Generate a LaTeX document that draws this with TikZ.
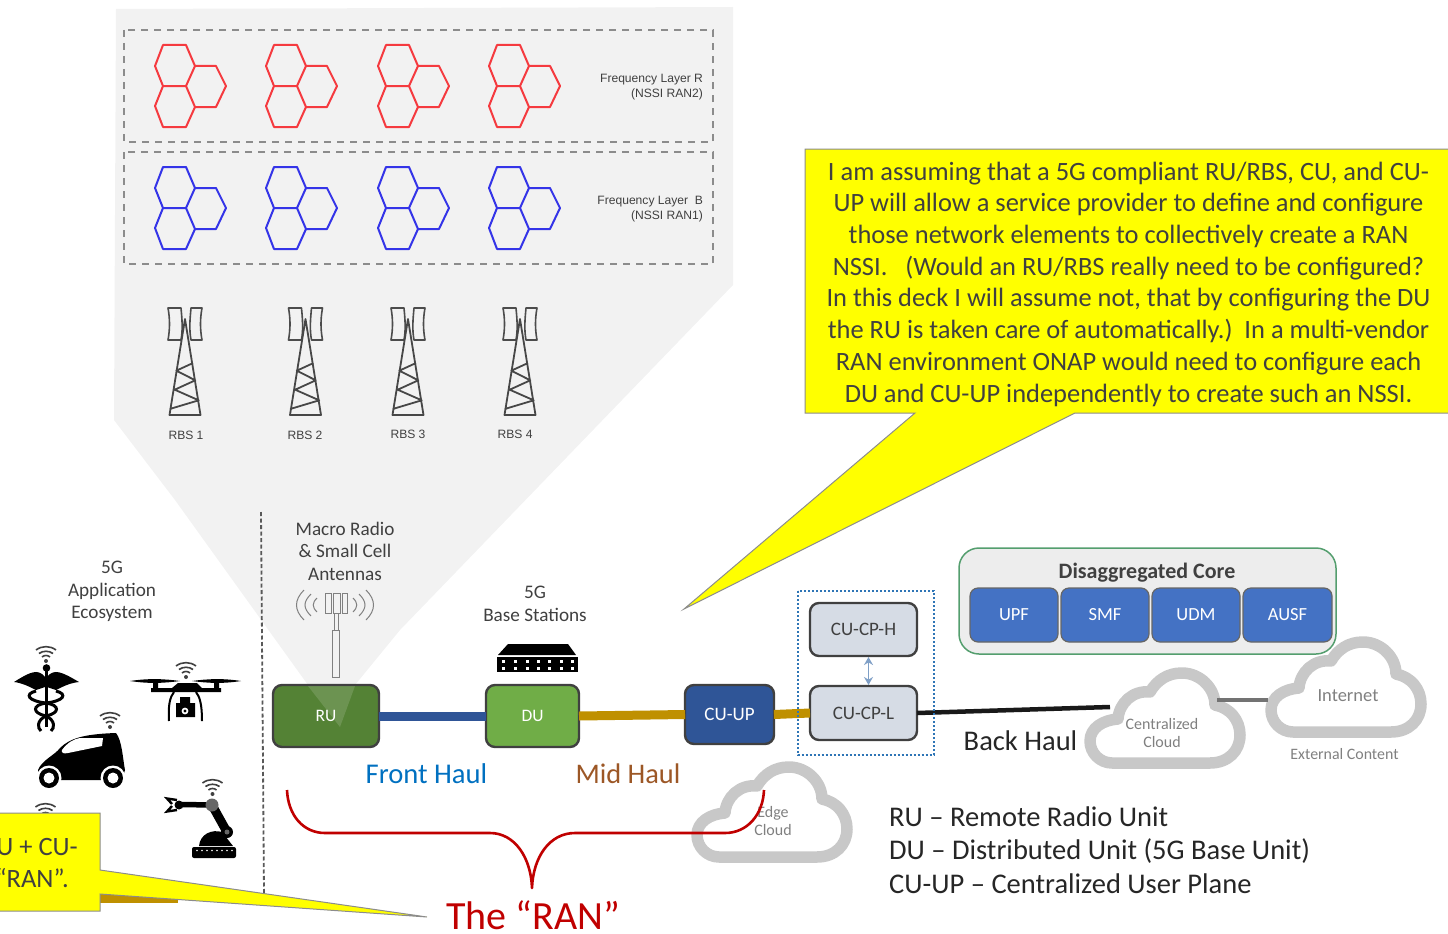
\documentclass[tikz,border=0pt]{standalone}
\usepackage{fontspec}
\setmainfont{Carlito}
\newfontfamily\smallfont{Liberation Sans}
\usetikzlibrary{arrows.meta}
\definecolor{txtgray}{HTML}{404040}
\definecolor{panelgray}{HTML}{F2F2F2}
\definecolor{cloudgray}{HTML}{C8C8C8}
\definecolor{lightgraytxt}{HTML}{808080}
\definecolor{coreblue}{HTML}{4472C4}
\definecolor{callyellow}{HTML}{FFFF00}
\definecolor{linkgold}{HTML}{BF9000}
\definecolor{linkblue}{HTML}{2F5597}
\definecolor{hexred}{HTML}{F53A3F}
\definecolor{hexblue}{HTML}{3434E8}
\definecolor{ranred}{HTML}{C00000}
\definecolor{cpfill}{HTML}{D6DCE5}
\definecolor{arrowblue}{HTML}{7F9FC6}
\definecolor{rugreen}{HTML}{548235}
\definecolor{dugreen}{HTML}{70AD47}
\definecolor{dotblue}{HTML}{2E75B6}
\definecolor{coregreen}{HTML}{549E6E}
\definecolor{coregray}{HTML}{EDEDED}
\definecolor{frontblue}{HTML}{0070C0}
\definecolor{midbrown}{HTML}{9C5726}
\newcommand{\fs}[2]{\fontsize{#1}{#2}\selectfont}
\tikzset{
  x=1pt,y=-1pt,
  txt/.style={inner sep=0pt,outer sep=0pt,align=center,text=txtgray},
  unit/.style={draw=txtgray,line width=2.4pt,rounded corners=9pt,inner sep=0pt,outer sep=0pt,text=white,font=\fs{17.5}{20}},
  cpunit/.style={unit,fill=cpfill,text=txtgray,font=\fs{19}{22}},
  coreunit/.style={draw=black!60,line width=1.2pt,rounded corners=8pt,inner sep=0pt,outer sep=0pt,fill=coreblue,text=white,font=\fs{18.5}{22},minimum width=88pt,minimum height=54pt},
  link/.style={line width=9pt},
  dashbox/.style={draw=black!45,line width=1.3pt,dash pattern=on 7pt off 6pt},
  smalllabel/.style={inner sep=0pt,outer sep=0pt,text=txtgray,font=\smallfont\fs{12.1}{14}},
  cloudtxt/.style={inner sep=0pt,outer sep=0pt,align=center,text=lightgraytxt},
  hexcluster/.pic={
    \draw[pic actions,line width=2pt,line join=round]
      (8,0)--(31,0)--(40,21)--(31,41)--(8,41)--(0,21)--cycle
      (8,41)--(0,61)--(8,82)--(31,82)--(40,62)--(31,41)
      (40,21)--(61,21)--(71,41)--(61,62)--(40,62);
  },
  towericon/.pic={
    \draw[line width=1.6pt,draw=black!70,line join=round]
      (-17,-11) -- (-4,-11) .. controls (-3,0) and (-2,10) .. (-4,21) -- (-17,21) .. controls (-15,10) and (-15,0) .. cycle
      (17,-11) -- (6,-11) .. controls (5,0) and (4,10) .. (6,21) -- (17,21) .. controls (15,10) and (15,0) .. cycle;
    \draw[line width=1.8pt,draw=black!72,line join=round]
      (-15.5,96) -- (0,0) -- (15.5,96) -- cycle
      (-15.3,90) -- (13.7,81.3) -- (-10.3,70.7) -- (10.3,61.3) -- (-8.7,51.7) -- (8,44);
  },
  wifi/.pic={
    \fill[black!75] (0,0) circle[radius=2];
    \draw[black!75,line width=1.6pt] (-4,-4) .. controls (-2,-6) and (2,-6) .. (4,-4);
    \draw[black!75,line width=1.6pt] (-7,-7.5) .. controls (-3,-10.5) and (3,-10.5) .. (7,-7.5);
    \draw[black!75,line width=1.6pt] (-10,-11) .. controls (-4,-15.5) and (4,-15.5) .. (10,-11);
  },
  cloudshape/.pic={
    \draw[cloudgray,line width=11.5pt,line join=round]
      (27,95) .. controls (15,95) and (5,85) .. (5,73)
      .. controls (5,60) and (18,52) .. (33,51)
      .. controls (34,35) and (48,22) .. (65,24)
      .. controls (72,12) and (83,5) .. (97,5)
      .. controls (115,5) and (130,20) .. (130,37)
      .. controls (145,40) and (155,52) .. (155,67)
      .. controls (155,83) and (143,95) .. (125,95) -- cycle;
  },
}
\begin{document}
\begin{tikzpicture}
\useasboundingbox (0,0) rectangle (1448,934);
% panel
\fill[panelgray] (116,9) -- (733,7) -- (733,285) -- (400,630) -- (355,685) -- (308,685) -- (175,500) -- (114,420) -- cycle;
\draw[dashbox] (124,30) rectangle (713,142);
\draw[dashbox] (124,152) rectangle (713,264);
\foreach \hx in {155,266,378,489} {
  \pic[draw=hexred] at (\hx,45) {hexcluster};
  \pic[draw=hexblue] at (\hx,167) {hexcluster};
}
\node[smalllabel,anchor=east] (fr1) at (703,80) {Frequency Layer R};
\node[smalllabel,anchor=east] (fr2) at (703,94) {(NSSI RAN2)};
\node[smalllabel,anchor=east] (fb1) at (703,202) {Frequency Layer\ \ B};
\node[smalllabel,anchor=east] (fb2) at (703,216) {(NSSI RAN1)};
\foreach \tx in {185,305.5,408,520} { \pic at (\tx,319) {towericon}; }
\node[smalllabel] (rbs1) at (186,435.5) {RBS 1};
\node[smalllabel] (rbs2) at (305,435.5) {RBS 2};
\node[smalllabel] (rbs3) at (408,434) {RBS 3};
\node[smalllabel] (rbs4) at (515,434) {RBS 4};
% divider
\draw[black!65,line width=1.8pt,dash pattern=on 4pt off 2.5pt] (261,512) -- (264,893);
% labels
\node[txt,font=\fs{19.2}{22.6}] (eco) at (112,591.5) {5G\\Application\\Ecosystem};
\node[txt,font=\fs{19.2}{22.6}] (macro) at (345,551) {Macro Radio\\\&\ Small Cell\\Antennas};
\node[txt,font=\fs{19.2}{23}] (bs) at (535,604) {5G\\Base Stations};
% macro antenna
\begin{scope}[black!50,line width=1pt]
  \draw (325,593) rectangle (331,613) (333,593) rectangle (340,613) (342,593) rectangle (347,613);
  \draw (334,613) rectangle (338,630) (332.5,630) rectangle (339.5,677);
  \draw (304,590) .. controls (294,600) and (294,610) .. (304,620);
  \draw (311,594) .. controls (303,602) and (303,608) .. (311,616);
  \draw (317,598) .. controls (312,603) and (312,607) .. (317,612);
  \draw (366,590) .. controls (376,600) and (376,610) .. (366,620);
  \draw (359,594) .. controls (367,602) and (367,608) .. (359,616);
  \draw (353,598) .. controls (358,603) and (358,607) .. (353,612);
\end{scope}
% base station icon
\fill[black] (508,644) -- (568,644) -- (576,655) -- (498,655) -- cycle;
\fill[black] (497,657) rectangle (577.5,672);
\foreach \dx in {503,515,527,538,549,561,572} {
  \fill[white] (\dx-1.5,659.5) rectangle (\dx+1.5,662.5);
  \fill[white] (\dx-1.5,666.5) rectangle (\dx+1.5,669.5);
}
% wifi
\pic at (46,661) {wifi};
\pic at (186,677) {wifi};
\pic at (110,727) {wifi};
\pic at (212.5,794) {wifi};
\pic at (45.5,818) {wifi};
% caduceus
\fill[black] (45,677) .. controls (38,668) and (30,672) .. (14,682) .. controls (22,683) and (28,686) .. (36,690) -- (45,687) -- cycle;
\fill[black] (47,677) .. controls (54,668) and (62,672) .. (79,682) .. controls (70,683) and (64,686) .. (56,690) -- (47,687) -- cycle;
\fill[black] (46.5,668) circle[radius=3.8];
\draw[black,line width=3pt] (46,670) -- (46,727);
\draw[black,line width=3pt] (36,691) .. controls (24,694) and (28,701) .. (46,703) .. controls (60,705) and (60,713) .. (46,716) .. controls (37,720) and (37,728) .. (41,731);
\draw[black,line width=3pt] (56,691) .. controls (68,694) and (64,701) .. (46,703) .. controls (32,705) and (32,713) .. (46,716) .. controls (55,720) and (55,728) .. (51,731);
% drone
\fill[black] (130,681) .. controls (150,678) and (165,679) .. (180,681) .. controls (165,683) and (150,684) .. (130,681) -- cycle;
\fill[black] (192,681) .. controls (207,679) and (222,678) .. (241,681) .. controls (222,684) and (207,683) .. (192,681) -- cycle;
\fill[black] (153,680) rectangle (158,689) (214,680) rectangle (219,689);
\fill[black] (151,688) -- (172,688) -- (178,683) -- (197,683) -- (202,688) -- (221,688) -- (221,692) -- (151,692) -- cycle;
\draw[black,line width=2pt] (174,692) .. controls (170,697) and (168,705) .. (169,721);
\draw[black,line width=2pt] (196,692) .. controls (200,697) and (202,705) .. (202,721);
\fill[black] (180,697) rectangle (190,704) (176,703) rectangle (195,717);
\fill[white] (185,711) circle[radius=3.4];
\fill[black] (185,711) circle[radius=1.6];
% car
\fill[black] (41,780) -- (38,770) .. controls (42,760) and (55,755) .. (60,748) .. controls (70,738) and (85,734) .. (116,733) .. controls (122,740) and (123,760) .. (125,770) -- (122,780) -- cycle;
\fill[white] (62,750) .. controls (68,742) and (74,739) .. (80,738) -- (103,738) -- (102,746) -- (68,753) .. controls (64,754) and (61,753) .. (62,750) -- cycle;
\foreach \wx in {49,113} {
  \fill[white] (\wx,778) circle[radius=12.5];
  \fill[black] (\wx,778) circle[radius=10];
  \fill[white] (\wx,778) circle[radius=5.5];
}
% robot
\draw[black,line width=5.5pt] (182,804.5) -- (212,805);
\draw[black,line width=9pt] (212,805) -- (227,832);
\fill[black!60] (212,805) circle[radius=6.5];
\fill[black] (227,832) circle[radius=6];
\fill[black!60] (227,832) circle[radius=2.5];
\fill[black] (179,805) circle[radius=4.5];
\draw[black,line width=2.4pt] (177,800) -- (167,798.5) -- (172,804) (177,810) -- (167,811.5) -- (172,806);
\fill[black] (199,846) .. controls (200,834) and (212,829) .. (222,832) -- (233,846) -- cycle;
\fill[black,rounded corners=2pt] (192,847) rectangle (236,858);
\foreach \bx in {197,202,207,212,217,222,227,232} { \fill[white] (\bx,850.5) circle[radius=.9]; }
% clouds
\pic at (692,762) {cloudshape};
\pic at (1085,668) {cloudshape};
\pic at (1266,637) {cloudshape};
\coordinate (centralW) at (1110,707);
\coordinate (centralE) at (1217,700);
\coordinate (internetW) at (1268,700);
\node[cloudtxt,font=\fs{16}{18}] (edgetxt) at (773,820.5) {Edge\\Cloud};
\node[cloudtxt,font=\fs{16}{18}] (centxt) at (1162,732.5) {Centralized\\Cloud};
\node[cloudtxt,font=\fs{18.5}{22}] (inttxt) at (1348,695.5) {Internet};
\node[cloudtxt,font=\fs{15.9}{18}] (exttxt) at (1344.5,754.5) {External Content};
% units
\node[unit,fill=rugreen,minimum width=106pt,minimum height=62pt] (ru) at (326,716) {};
\fill[white,opacity=.14] (308,686) -- (355,686) -- (340,727) -- cycle;
\node[inner sep=0pt,text=white,font=\fs{17.5}{20}] (rutxt) at (326,715.5) {RU};
\node[unit,fill=dugreen,minimum width=93pt,minimum height=62pt] (du) at (532.5,716) {DU};
\node[unit,fill=linkblue,minimum width=89pt,minimum height=59pt,font=\fs{19}{22}] (cuup) at (729.5,714.5) {CU-UP};
\node[cpunit,minimum width=107pt,minimum height=53pt] (cph) at (863.5,629.5) {CU-CP-H};
\node[cpunit,minimum width=107pt,minimum height=54pt] (cpl) at (863.5,713) {CU-CP-L};
\coordinate (arrT) at ([shift={(5,1)}]cph.south);
\coordinate (arrB) at ([shift={(5,-1)}]cpl.north);
\draw[draw=arrowblue,line width=1.4pt,{Stealth[length=8pt,width=9pt]}-{Stealth[length=8pt,width=9pt]}] (arrT) -- (arrB);
% links
\draw[linkblue,link] (ru.east) -- (du.west);
\draw[linkgold,link] (du.east) -- (cuup.west);
\draw[linkgold,link] (cuup.east) -- (cpl.west);
\draw[black!90,line width=4.5pt] (cpl.east) -- (centralW);
\draw[black!55,line width=4pt] (centralE) -- (internetW);
\draw[draw=dotblue,line width=2pt,dash pattern=on 2pt off 2pt] (797.5,591) rectangle (933.5,755);
% core
\node[draw=coregreen,line width=1.5pt,fill=coregray,rounded corners=20pt,minimum width=377pt,minimum height=106pt,inner sep=0pt,outer sep=0pt] (core) at (1147.5,601) {};
\node[inner sep=0pt,text=txtgray,font=\bfseries\fs{22}{26}] (coretitle) at (1147,573) {Disaggregated Core};
\node[coreunit] (upf) at (1014,615) {UPF};
\node[coreunit] (smf) at (1105,615) {SMF};
\node[coreunit] (udm) at (1196,615) {UDM};
\node[coreunit,minimum width=89pt] (ausf) at (1287.5,615) {AUSF};
% haul labels
\node[inner sep=0pt,text=frontblue,font=\fs{28.6}{32}] (fh) at (426.5,774) {Front Haul};
\node[inner sep=0pt,text=midbrown,font=\fs{28.4}{32}] (mh) at (628,774) {Mid Haul};
\node[inner sep=0pt,text=black!85,font=\fs{28.5}{32}] (bh) at (1020.5,741) {Back Haul};
\node[inner sep=0pt,text=black!85,align=left,anchor=west,font=\fs{28.5}{33.8}] (legend) at (889,850) {RU -- Remote Radio Unit\\DU -- Distributed Unit (5G Base Unit)\\CU-UP -- Centralized User Plane};
% brace
\draw[ranred,line width=2.6pt,line join=round] (287,790) .. controls (288,815) and (303,833) .. (325,833) -- (490,833) .. controls (515,833) and (531,858) .. (532,888) .. controls (533,858) and (549,833) .. (575,833) -- (725,833) .. controls (747,833) and (763,815) .. (764,790);
\node[inner sep=0pt,text=ranred,font=\fs{40}{40}] (ran) at (533,915) {The “RAN”};
% callouts
\fill[linkgold] (100,893) rectangle (178,903);
\draw[fill=callyellow,draw=black!45,line width=1pt] (-5,813) -- (100,813) -- (100,870) -- (427,917) -- (100,894) -- (100,911) -- (-5,911) -- cycle;
\node[inner sep=0pt,text=txtgray,anchor=east,font=\fs{26.5}{30}] (c2a) at (78,847) {U + CU-};
\node[inner sep=0pt,text=txtgray,anchor=east,font=\fs{26.5}{30}] (c2b) at (69,878) {“RAN”.};
\draw[fill=callyellow,draw=black!45,line width=1pt] (805,149) -- (1449,149) -- (1449,413) -- (1075,413) -- (684,609) -- (915,413) -- (805,413) -- cycle;
\node[txt,font=\fs{26.45}{31.7}] (c1) at (1128.5,284) {I am assuming that a 5G compliant RU/RBS, CU, and CU-\\UP will allow a service provider to define and configure\\those network elements to collectively create a RAN\\NSSI.\ \ \ (Would an RU/RBS really need to be configured?\\In this deck I will assume not, that by configuring the DU\\the RU is taken care of automatically.)\ \ In a multi-vendor\\RAN environment ONAP would need to configure each\\DU and CU-UP independently to create such an NSSI.};
\end{tikzpicture}
\end{document}
